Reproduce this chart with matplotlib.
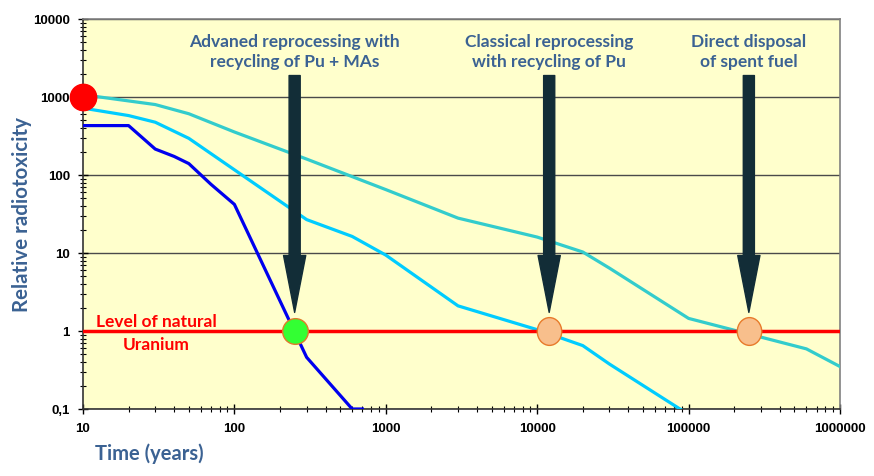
import matplotlib.pyplot as plt
import numpy as np
from matplotlib.patches import FancyArrowPatch
from matplotlib.ticker import LogLocator, NullFormatter
from matplotlib.markers import MarkerStyle
from matplotlib.transforms import Affine2D

# direct disposal of spent fuel
t_direct = [10, 30, 50, 100, 300, 1000, 3000, 10000, 20000, 30000, 100000, 600000, 1000000]
v_direct = [1070, 800, 610, 356, 160, 65, 28, 16, 10.3, 6.4, 1.45, 0.59, 0.35]

# classical reprocessing, recycling of Pu
t_pu = [10, 20, 30, 50, 300, 600, 1000, 3000, 10000, 20000, 30000, 100000]
v_pu = [720, 578, 475, 295, 26.8, 16.3, 9.4, 2.1, 1.04, 0.65, 0.377, 0.085]

# advanced reprocessing, recycling of Pu + MAs
t_ma = [10, 20, 30, 40, 50, 70, 100, 300, 600, 700]
v_ma = [430, 430, 215, 173, 140, 76, 42, 0.46, 0.1, 0.1]

# crossing points with natural uranium level
cross_t = [250, 12000, 250000]
arrow_labels = ["Advaned reprocessing with\nrecycling of Pu + MAs",
                "Classical reprocessing\nwith recycling of Pu",
                "Direct disposal\nof spent fuel"]

ytick_vals = [0.1, 1, 10, 100, 1000, 10000]
ytick_labels = ["0,1", "1", "10", "100", "1000", "10000"]
xtick_vals = [10, 100, 1000, 10000, 100000, 1000000]
xtick_labels = ["10", "100", "1000", "10000", "100000", "1000000"]

title_col = "#3b6293"
arrow_col = "#122d37"

fig = plt.figure(figsize=(8.74, 4.77), dpi=100)
ax = fig.add_axes([83 / 874, 1 - 410 / 477, 757 / 874, 390 / 477])
ax.set_facecolor("#ffffcc")
ax.set_xscale("log")
ax.set_yscale("log")
ax.set_xlim(10, 1e6)
ax.set_ylim(0.1, 10000)

ax.yaxis.grid(True, which="major", color="#4a4a4a", lw=1)
ax.set_axisbelow(True)

ax.plot(t_direct, v_direct, color="#33cccc", lw=2.3, zorder=3)
ax.plot(t_pu, v_pu, color="#00ccff", lw=2.3, zorder=3)
ax.plot(t_ma, v_ma, color="#0000ee", lw=2.3, zorder=3)

ax.axhline(1, color="#ff0000", lw=2.5, zorder=4)
ax.text(30.3, 1.33, "Level of natural", color="#ff0000", fontsize=12.5,
        fontweight="bold", family="Lato", ha="center", va="center")
ax.text(30.5, 0.69, "Uranium", color="#ff0000", fontsize=12.5,
        fontweight="bold", family="Lato", ha="center", va="center")

for t, lab in zip(cross_t, arrow_labels):
    arr = FancyArrowPatch((t, 1884), (t, 1.73),
                          arrowstyle="simple,tail_width=0.8,head_width=1.6,head_length=4.1",
                          mutation_scale=10, color=arrow_col, shrinkA=0, shrinkB=0,
                          zorder=5)
    ax.add_patch(arr)
    ax.text(t, 3890, lab, color=title_col, fontsize=12.5, fontweight="bold",
            family="Lato", ha="center", va="center", linespacing=1.3, zorder=6)

ax.plot([10], [1000], "o", ms=19, color="#ff0000", clip_on=False, zorder=7)
ax.plot([cross_t[0]], [1], "o", ms=18.5, mfc="#33ff33", mec="#e07a2a",
        mew=1, zorder=7)
oval = MarkerStyle("o", transform=Affine2D().scale(0.88, 1.0))
ax.plot(cross_t[1:], [1, 1], ls="none", marker=oval, ms=20, mfc="#f8bf8c",
        mec="#e87a2a", mew=1, zorder=7)

ax.set_xticks(xtick_vals, xtick_labels)
ax.set_yticks(ytick_vals, ytick_labels)
ax.xaxis.set_minor_locator(LogLocator(base=10, subs=np.arange(2, 10)))
ax.yaxis.set_minor_locator(LogLocator(base=10, subs=np.arange(2, 10)))
ax.xaxis.set_minor_formatter(NullFormatter())
ax.yaxis.set_minor_formatter(NullFormatter())
ax.tick_params(which="major", direction="inout", length=7, width=1,
               labelsize=9.5, pad=6)
ax.tick_params(which="minor", direction="inout", length=5, width=0.8)
for lab in ax.get_xticklabels() + ax.get_yticklabels():
    lab.set_family("Liberation Sans")
    lab.set_fontweight("bold")

for s in ["left", "bottom"]:
    ax.spines[s].set_color("#333333")
    ax.spines[s].set_linewidth(1.2)
for s in ["top", "right"]:
    ax.spines[s].set_color("#808080")
    ax.spines[s].set_linewidth(1.2)

fig.text(22 / 874, 1 - 215 / 477, "Relative radiotoxicity", rotation=90,
         color=title_col, fontsize=14.8, fontweight="bold", family="Lato",
         ha="center", va="center")
fig.text(149 / 874, 1 - 454 / 477, "Time (years)", color=title_col,
         fontsize=14.5, fontweight="bold", family="Lato", ha="center", va="center")

fig.savefig("out.png", dpi=100)
